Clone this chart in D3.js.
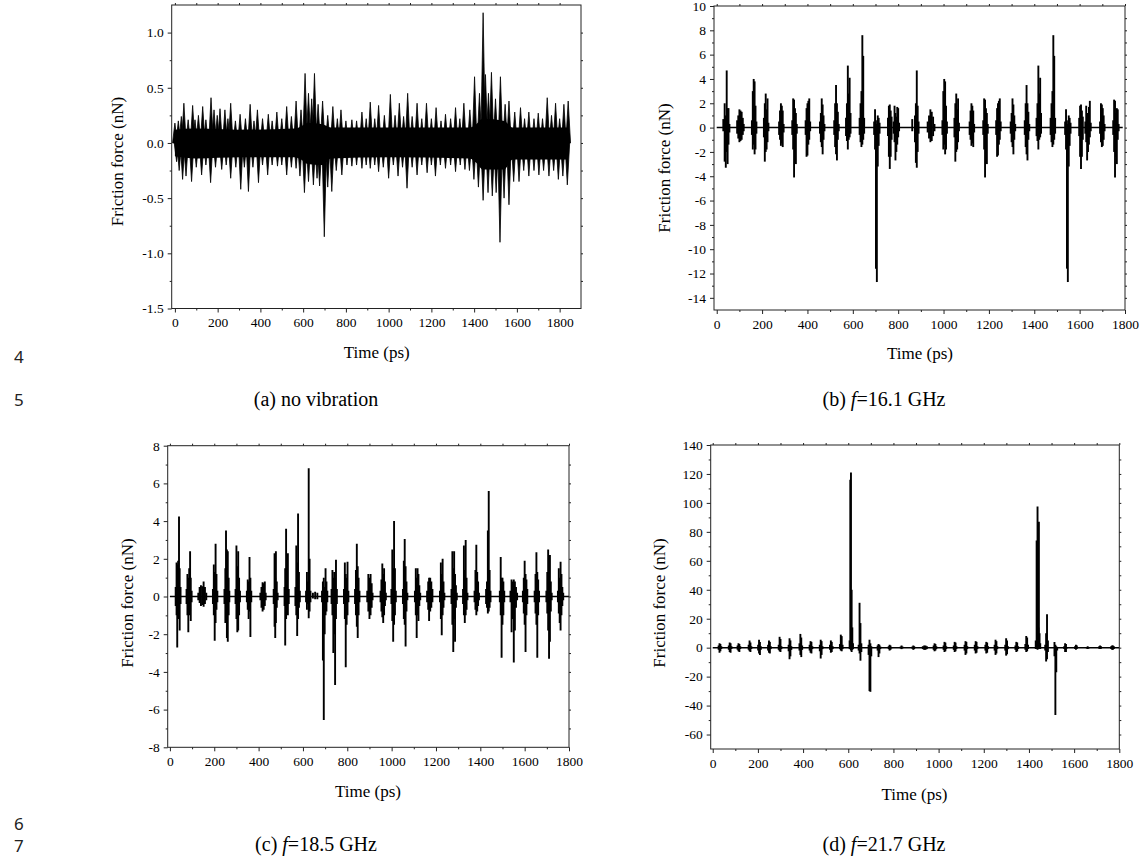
<!DOCTYPE html>
<html><head><meta charset="utf-8">
<script src="https://cdn.jsdelivr.net/npm/d3@7"></script>
<style>
body{margin:0;background:#fff}
svg{display:block}
text{font-family:"Liberation Serif","Times New Roman",serif;fill:#000}
</style></head>
<body><svg id="chart" width="1144" height="858"></svg>
<script>
// ---------------- DATA ----------------
const xTickValues = [0,200,400,600,800,1000,1200,1400,1600,1800];
const xMinorValues = [100,300,500,700,900,1100,1300,1500,1700];

// (a) no vibration : dense band + individual peaks / troughs
const aYTicks = [-1.5,-1.0,-0.5,0.0,0.5,1.0];
const aYMinor = [-1.25,-0.75,-0.25,0.25,0.75];
const aBandT  = [0,100,300,560,590,620,690,730,1000,1380,1410,1440,1540,1580,1840];
const aBandHi = [0.12,0.13,0.12,0.13,0.15,0.18,0.17,0.14,0.14,0.14,0.17,0.22,0.2,0.14,0.14];
const aBandLo = [-0.12,-0.14,-0.13,-0.13,-0.15,-0.19,-0.2,-0.14,-0.13,-0.14,-0.18,-0.24,-0.24,-0.15,-0.15];
const aPeaks = [[0,0.18],[16,0.2],[30,0.24],[42,0.36],[62,0.21],[83,0.34],[94,0.21],[110,0.25],[130,0.33],[145,0.21],[169,0.41],[183,0.3],[198,0.25],[211,0.31],[234,0.3],[248,0.22],[261,0.36],[283,0.2],[305,0.26],[330,0.22],[352,0.35],[370,0.2],[386,0.3],[410,0.22],[437,0.26],[455,0.2],[477,0.28],[500,0.22],[523,0.33],[545,0.24],[567,0.38],[590,0.3],[609,0.63],[625,0.45],[640,0.4],[653,0.63],[670,0.35],[691,0.38],[715,0.25],[739,0.33],[760,0.22],[777,0.3],[800,0.2],[828,0.21],[850,0.2],[875,0.28],[895,0.22],[914,0.37],[935,0.22],[953,0.34],[980,0.25],[1008,0.44],[1030,0.25],[1050,0.36],[1070,0.24],[1089,0.45],[1110,0.24],[1133,0.36],[1155,0.22],[1177,0.36],[1200,0.22],[1222,0.32],[1245,0.2],[1266,0.26],[1290,0.22],[1313,0.32],[1333,0.22],[1352,0.36],[1380,0.3],[1402,0.6],[1425,0.45],[1442,1.18],[1453,0.62],[1467,0.45],[1481,0.64],[1500,0.4],[1523,0.6],[1545,0.35],[1563,0.38],[1590,0.28],[1617,0.32],[1636,0.22],[1656,0.28],[1680,0.22],[1700,0.27],[1720,0.22],[1742,0.41],[1762,0.25],[1781,0.36],[1800,0.22],[1820,0.35],[1840,0.38]];
const aTroughs = [[8,-0.17],[20,-0.25],[36,-0.33],[52,-0.3],[78,-0.35],[100,-0.22],[125,-0.29],[145,-0.2],[167,-0.36],[190,-0.22],[219,-0.24],[240,-0.2],[261,-0.32],[285,-0.22],[308,-0.42],[325,-0.22],[344,-0.44],[365,-0.22],[391,-0.36],[410,-0.2],[434,-0.29],[455,-0.2],[480,-0.21],[500,-0.2],[523,-0.29],[545,-0.22],[567,-0.23],[585,-0.3],[606,-0.45],[625,-0.35],[648,-0.38],[665,-0.32],[677,-0.39],[699,-0.85],[715,-0.4],[734,-0.44],[755,-0.25],[781,-0.29],[805,-0.2],[828,-0.21],[850,-0.2],[875,-0.23],[895,-0.2],[914,-0.23],[935,-0.2],[953,-0.26],[975,-0.22],[1000,-0.32],[1022,-0.2],[1044,-0.3],[1065,-0.22],[1086,-0.41],[1110,-0.22],[1133,-0.29],[1155,-0.2],[1180,-0.27],[1200,-0.2],[1219,-0.3],[1242,-0.2],[1266,-0.23],[1290,-0.2],[1313,-0.26],[1335,-0.2],[1357,-0.24],[1378,-0.25],[1399,-0.33],[1420,-0.4],[1442,-0.52],[1465,-0.45],[1485,-0.48],[1503,-0.45],[1521,-0.9],[1540,-0.5],[1563,-0.56],[1585,-0.35],[1610,-0.35],[1632,-0.25],[1656,-0.3],[1680,-0.25],[1703,-0.29],[1725,-0.25],[1750,-0.3],[1772,-0.25],[1794,-0.33],[1815,-0.3],[1836,-0.38]];

// (b) f = 16.1 GHz : spikes [time, max, min]
const bYTicks = [-14,-12,-10,-8,-6,-4,-2,0,2,4,6,8,10];
const bYMinor = [-15,-13,-11,-9,-7,-5,-3,-1,1,3,5,7,9];
const bSpikes = [
 [29,0.7,-0.3],[35,2.0,-2.8],[40,1.0,-3.3],[44,4.7,-2.0],[48,1.6,-3.0],[52,1.6,-1.4],[56,0.3,-0.4],
 [90,0.6,-0.5],[95,1.0,-0.9],[100,1.5,-1.2],[105,1.4,-1.1],[110,1.3,-1.0],[115,0.8,-0.6],[119,0.3,-0.3],
 [155,0.6,-0.6],[159,3.0,-1.8],[163,4.0,-1.4],[167,3.8,-2.2],[171,1.8,-1.8],[175,0.5,-0.5],
 [208,0.8,-0.8],[212,2.0,-2.8],[216,2.8,-2.0],[220,1.5,-1.8],[224,2.4,-1.2],[228,0.4,-0.3],
 [275,0.5,-0.6],[279,1.4,-1.0],[283,2.0,-1.5],[287,1.8,-1.3],[291,1.4,-1.6],[295,0.3,-0.4],
 [333,0.6,-0.6],[337,2.4,-1.8],[341,2.3,-4.1],[345,1.6,-2.4],[349,1.2,-3.0],[353,0.3,-0.5],
 [392,0.6,-0.6],[396,1.6,-2.4],[400,2.0,-2.3],[404,2.2,-1.4],[408,2.4,-1.0],[412,0.5,-0.3],
 [455,0.5,-0.5],[459,1.2,-1.2],[463,2.4,-1.6],[467,1.9,-2.2],[471,1.0,-1.0],[475,0.3,-0.3],
 [518,0.6,-0.6],[522,2.0,-1.6],[526,3.5,-2.2],[530,2.0,-2.7],[534,1.3,-1.0],[538,0.3,-0.3],
 [570,0.8,-0.7],[574,2.0,-1.1],[578,5.1,-1.8],[582,2.8,-1.0],[586,4.1,-0.8],[590,1.2,-0.5],
 [630,0.8,-0.6],[634,2.0,-1.2],[638,3.0,-1.6],[642,7.6,-1.4],[646,5.9,-1.0],[650,0.8,-0.5],
 [694,0.5,-0.6],[698,1.5,-1.8],[702,0.6,-11.6],[706,0.3,-12.7],[710,1.0,-3.2],[714,0.8,-1.5],[718,0.4,-0.5],
 [755,0.8,-0.7],[759,1.8,-2.4],[763,1.9,-3.4],[767,1.4,-2.4],[771,0.9,-1.0],
 [780,0.5,-0.5],[784,1.8,-1.2],[788,1.2,-2.7],[792,0.9,-2.0],[796,1.7,-1.4],[800,1.6,-0.8],[804,0.4,-0.3],
 [862,0.7,-0.3],[874,1.0,-1.2],[878,2.0,-2.9],[882,4.7,-3.3],[886,1.8,-2.0],[890,0.5,-0.5],
 [930,0.5,-0.4],[936,1.0,-0.9],[942,1.5,-1.2],[948,1.3,-1.1],[954,0.9,-0.7],[960,0.3,-0.3],
 [995,0.6,-0.6],[999,3.0,-1.8],[1003,4.0,-1.4],[1007,3.8,-2.2],[1011,1.8,-1.8],[1015,0.5,-0.5],
 [1048,0.8,-0.8],[1052,2.0,-2.8],[1056,2.8,-2.0],[1060,1.5,-1.8],[1064,2.4,-1.2],[1068,0.4,-0.3],
 [1115,0.5,-0.6],[1119,1.4,-1.0],[1123,2.0,-1.5],[1127,1.8,-1.3],[1131,1.4,-1.6],[1135,0.3,-0.4],
 [1175,0.6,-0.6],[1179,2.4,-1.8],[1183,2.3,-4.1],[1187,1.6,-2.4],[1191,1.2,-3.0],[1195,0.3,-0.5],
 [1232,0.6,-0.6],[1236,1.6,-2.4],[1240,2.0,-2.3],[1244,2.2,-1.4],[1248,2.4,-1.0],[1252,0.5,-0.3],
 [1296,0.5,-0.5],[1300,1.2,-1.2],[1304,2.4,-1.6],[1308,1.9,-2.2],[1312,1.0,-1.0],[1316,0.3,-0.3],
 [1358,0.6,-0.6],[1362,2.0,-1.6],[1366,3.5,-2.2],[1370,2.0,-2.7],[1374,1.3,-1.0],[1378,0.3,-0.3],
 [1410,0.8,-0.7],[1414,2.0,-1.1],[1418,5.1,-1.8],[1422,2.8,-1.0],[1426,4.1,-0.8],[1430,1.2,-0.5],
 [1472,0.8,-0.6],[1476,2.0,-1.2],[1480,3.0,-1.6],[1484,7.6,-1.4],[1488,5.9,-1.0],[1492,0.8,-0.5],
 [1536,0.5,-0.6],[1540,1.5,-1.8],[1544,0.6,-11.6],[1548,0.3,-12.7],[1552,1.0,-3.2],[1556,0.8,-1.5],[1560,0.4,-0.5],
 [1598,0.8,-0.7],[1602,1.8,-2.4],[1606,1.9,-3.4],[1610,1.4,-2.4],[1614,0.9,-1.0],
 [1625,0.5,-0.5],[1629,1.8,-1.2],[1633,1.2,-2.7],[1637,0.9,-2.0],[1641,1.7,-1.4],[1645,2.2,-0.8],[1649,0.4,-0.3],
 [1690,0.5,-0.5],[1694,2.0,-1.2],[1698,1.9,-1.6],[1702,1.6,-1.5],[1706,1.0,-1.0],[1710,0.3,-0.3],
 [1748,0.6,-0.6],[1752,2.3,-2.0],[1756,2.2,-4.1],[1760,1.2,-2.4],[1764,1.6,-3.0],[1768,1.5,-1.0],[1772,0.3,-0.3]
];

// (c) f = 18.5 GHz
const cYTicks = [-8,-6,-4,-2,0,2,4,6,8];
const cYMinor = [-7,-5,-3,-1,1,3,5,7];
const cSpikes = [
 [26,0.5,-0.5],[30,1.8,-1.0],[33,1.7,-2.7],[37,1.9,-1.2],[41,4.25,-0.9],[44,1.5,-1.8],[48,0.5,-0.4],
 [75,0.4,-0.4],[79,1.2,-1.0],[83,1.0,-1.9],[87,1.5,-1.0],[91,2.4,-0.8],[94,1.0,-1.3],[98,0.3,-0.3],
 [128,0.2,-0.2],[134,0.5,-0.35],[140,0.6,-0.5],[146,0.55,-0.45],[152,0.8,-0.55],[158,0.5,-0.4],[164,0.2,-0.2],
 [194,0.4,-0.4],[198,1.7,-1.0],[202,1.3,-2.35],[206,2.8,-1.4],[210,1.2,-0.7],[214,0.3,-0.3],
 [246,0.4,-0.4],[250,1.5,-1.4],[253,3.5,-1.0],[257,2.5,-2.2],[261,2.4,-2.4],[265,1.0,-1.0],[268,0.3,-0.3],
 [296,0.4,-0.4],[300,2.7,-1.2],[304,1.6,-1.9],[308,2.4,-1.8],[312,1.0,-1.0],[316,0.3,-0.3],
 [347,0.3,-0.3],[351,0.9,-0.7],[355,0.8,-1.2],[359,2.1,-0.8],[363,1.0,-2.15],[367,0.3,-0.3],
 [408,0.2,-0.2],[413,0.5,-0.6],[418,0.75,-0.8],[423,0.7,-0.7],[428,0.8,-0.5],[432,0.2,-0.2],
 [468,0.4,-0.4],[472,2.3,-1.6],[475,1.0,-2.2],[478,2.4,-1.4],[482,0.8,-0.6],[486,0.2,-0.2],
 [517,0.5,-0.5],[520,1.5,-2.6],[524,3.6,-1.2],[528,1.6,-0.9],[532,2.3,-1.0],[536,0.4,-0.4],
 [566,0.5,-0.5],[570,2.7,-1.0],[574,1.8,-2.1],[578,4.4,-1.2],[582,1.3,-0.6],[586,0.3,-0.3],
 [614,0.3,-0.3],[618,1.3,-0.7],[622,0.8,-0.4],[626,6.8,-1.15],[630,2.0,-0.8],[634,0.3,-0.3],
 [645,0.2,-0.1],[655,0.25,-0.15],[665,0.2,-0.15],
 [686,0.3,-0.3],[690,0.8,-3.4],[694,1.0,-6.55],[698,0.5,-2.0],[702,1.5,-1.0],[706,0.8,-0.8],[710,0.3,-0.3],
 [729,0.4,-0.4],[733,1.4,-1.0],[737,1.0,-3.0],[741,1.3,-2.0],[745,1.0,-4.7],[749,1.95,-1.2],[753,0.4,-0.4],
 [785,0.4,-0.4],[789,1.8,-1.2],[793,1.2,-3.75],[797,1.0,-1.5],[801,1.85,-1.0],[805,0.3,-0.3],
 [835,0.4,-0.4],[839,1.4,-1.0],[843,2.8,-1.6],[847,1.6,-2.2],[851,1.0,-1.0],[855,0.3,-0.3],
 [890,0.3,-0.3],[895,1.2,-0.8],[900,1.0,-1.2],[905,1.2,-1.0],[910,0.7,-0.6],[914,0.2,-0.2],
 [950,0.3,-0.3],[954,0.9,-0.8],[958,1.75,-1.1],[962,1.2,-1.4],[966,1.5,-1.0],[970,0.8,-0.5],[974,0.2,-0.2],
 [999,0.4,-0.4],[1003,2.5,-1.3],[1007,1.5,-2.4],[1011,4.0,-1.5],[1015,1.5,-1.0],[1019,0.3,-0.3],
 [1051,0.4,-0.4],[1055,1.9,-1.2],[1059,3.05,-1.5],[1063,1.6,-2.65],[1067,0.8,-0.8],[1071,0.2,-0.2],
 [1105,0.3,-0.3],[1109,1.5,-1.0],[1113,1.0,-2.2],[1117,1.5,-1.0],[1121,1.2,-1.3],[1125,0.6,-0.5],[1129,0.2,-0.2],
 [1160,0.3,-0.3],[1165,0.8,-0.7],[1169,1.0,-1.3],[1174,1.0,-0.8],[1179,0.8,-0.6],[1184,0.4,-0.3],
 [1218,0.3,-0.3],[1222,1.8,-1.2],[1226,1.2,-2.05],[1230,2.0,-1.0],[1234,0.8,-0.6],[1238,0.2,-0.2],
 [1270,0.4,-0.4],[1274,2.4,-1.5],[1278,1.5,-2.95],[1282,2.4,-1.2],[1286,1.2,-2.4],[1290,0.6,-0.6],[1294,0.2,-0.2],
 [1322,0.4,-0.4],[1326,2.7,-1.0],[1330,1.4,-1.4],[1334,3.0,-1.0],[1338,1.0,-0.7],[1342,0.2,-0.2],
 [1374,0.3,-0.3],[1378,1.4,-0.7],[1382,2.75,-1.0],[1386,1.3,-0.8],[1390,0.8,-0.5],[1394,0.2,-0.2],
 [1426,0.4,-0.4],[1430,0.8,-0.6],[1434,3.5,-0.9],[1438,5.6,-0.8],[1442,1.4,-0.6],[1446,0.3,-0.3],
 [1488,0.3,-0.3],[1492,2.1,-1.0],[1496,1.0,-3.25],[1500,1.0,-1.5],[1504,0.8,-1.0],[1508,0.3,-0.3],
 [1536,0.3,-0.3],[1541,0.9,-1.9],[1546,0.8,-1.2],[1551,0.9,-3.5],[1556,0.8,-1.8],[1561,0.5,-0.6],[1566,0.2,-0.2],
 [1592,0.3,-0.3],[1596,1.0,-0.9],[1600,1.9,-1.5],[1604,1.2,-2.95],[1608,0.9,-1.0],[1612,0.4,-0.4],
 [1645,0.3,-0.3],[1649,1.2,-0.9],[1653,2.35,-1.5],[1657,1.3,-3.25],[1661,0.9,-1.0],[1665,0.3,-0.3],
 [1698,0.3,-0.3],[1702,1.3,-0.9],[1706,2.5,-1.8],[1710,1.6,-3.3],[1714,2.2,-2.4],[1718,0.8,-0.8],[1722,0.2,-0.2],
 [1750,0.3,-0.3],[1754,1.5,-0.9],[1758,1.0,-1.4],[1762,1.85,-1.8],[1766,1.2,-1.0],[1770,0.5,-0.5],[1774,0.2,-0.2]
];

// (d) f = 21.7 GHz
const dYTicks = [-60,-40,-20,0,20,40,60,80,100,120,140];
const dYMinor = [-70,-50,-30,-10,10,30,50,70,90,110,130];
const dSpikes = [
 [26,1.5,-1.5],[30,3.0,-3.5],[34,2.5,-2.5],[38,1.0,-1.0],
 [71,1.5,-1.5],[75,3.5,-3.0],[79,3.0,-3.5],[83,1.0,-1.0],
 [110,1.5,-1.5],[114,3.0,-2.5],[118,2.5,-3.0],[122,1.0,-1.0],
 [159,2.0,-1.5],[163,5.0,-2.5],[167,3.5,-3.0],[171,1.0,-1.0],
 [201,2.0,-2.0],[205,5.5,-4.0],[209,4.0,-5.0],[213,1.0,-1.5],
 [245,2.0,-2.0],[249,5.0,-3.5],[253,4.0,-4.0],[257,1.0,-1.0],
 [292,2.0,-1.5],[296,7.5,-2.5],[300,6.0,-3.0],[304,1.0,-1.0],
 [336,2.0,-2.5],[340,6.5,-8.0],[344,5.0,-6.0],[348,1.0,-1.5],
 [384,3.0,-2.0],[388,9.5,-5.0],[392,7.0,-6.5],[396,1.5,-1.5],
 [429,2.0,-2.0],[433,4.5,-3.5],[437,4.0,-4.0],[441,1.0,-1.0],
 [474,2.0,-2.5],[478,5.5,-7.5],[482,4.5,-5.0],[486,1.0,-1.0],
 [519,2.0,-1.5],[523,5.0,-3.5],[527,4.0,-3.0],[531,1.0,-1.0],
 [563,2.5,-1.0],[567,9.0,-2.0],[571,8.0,-2.5],[575,2.0,-1.0],
 [606,5.0,-1.0],[609,116,-1.0],[612,121,-2.0],[615,40,-3.0],[618,14,-1.5],[621,3,-1.0],
 [646,2.0,-2.0],[650,31,-4.0],[654,17,-9.0],[658,3.0,-3.0],
 [690,2.0,-5.0],[694,5.5,-30],[698,3.0,-30.5],[702,1.0,-6],
 [730,1.5,-2.0],[734,2.5,-6.5],[738,2.0,-4.0],[742,0.8,-1.0],
 [779,1.0,-1.0],[783,2.0,-2.0],[787,1.5,-1.5],[791,0.5,-0.5],
 [832,0.8,-0.5],[836,1.5,-1.0],[840,0.8,-0.5],
 [884,0.8,-0.8],[888,1.5,-1.5],[892,1.0,-1.0],
 [930,1.0,-1.0],[936,1.5,-1.5],[942,1.5,-1.5],[948,1.0,-1.0],
 [978,1.5,-1.5],[982,3.0,-2.5],[986,2.5,-2.0],[990,1.0,-1.0],
 [1022,1.5,-1.5],[1026,4.0,-3.0],[1030,3.5,-2.5],[1034,1.0,-1.0],
 [1067,1.5,-1.5],[1071,4.0,-3.0],[1075,3.5,-2.5],[1079,1.0,-1.0],
 [1115,2.0,-2.0],[1119,4.5,-5.0],[1123,4.0,-4.0],[1127,1.0,-1.0],
 [1160,2.0,-2.0],[1164,4.5,-4.0],[1168,4.0,-3.5],[1172,1.0,-1.0],
 [1207,2.0,-2.0],[1211,4.0,-4.0],[1215,3.5,-3.5],[1219,1.0,-1.0],
 [1248,2.0,-2.0],[1252,5.5,-5.0],[1256,4.5,-4.0],[1260,1.0,-1.0],
 [1295,2.0,-2.0],[1299,6.5,-5.5],[1303,5.0,-4.5],[1307,1.0,-1.0],
 [1340,1.5,-1.5],[1344,4.0,-3.0],[1348,3.5,-2.5],[1352,1.0,-1.0],
 [1384,2.5,-1.5],[1388,8.0,-3.0],[1392,7.0,-2.5],[1396,2.0,-1.0],
 [1430,5,-1],[1434,74,-1],[1438,97.5,-1.5],[1442,14,-1],[1444,87,-1],[1447,10,-1],[1450,3,-1],
 [1472,2.0,-2.0],[1476,10,-9.5],[1480,23,-8.0],[1484,5.0,-3.0],
 [1513,4,-6],[1517,2,-46.5],[1521,1,-17],[1525,0.5,-2],
 [1556,1.0,-1.0],[1560,3.0,-3.0],[1564,2.5,-3.0],[1568,0.5,-0.5],
 [1604,1.0,-1.0],[1608,2.0,-1.5],[1612,1.5,-1.0],
 [1656,0.5,-0.5],[1660,1.0,-1.0],[1664,0.5,-0.5],
 [1711,1.0,-0.8],[1715,1.5,-1.0],[1719,1.0,-0.8],
 [1764,1.0,-1.0],[1768,1.5,-1.5],[1772,1.5,-1.5],[1776,1.0,-1.0]
];

const captions = ["(a) no vibration", "(b) ", "(c) ", "(d) "];
const freqs = ["", "16.1 GHz", "18.5 GHz", "21.7 GHz"];
const lineNumbers = ["4","5","6","7"];
const xTitle = "Time (ps)";
const yTitle = "Friction force (nN)";

// ---------------- LAYOUT ----------------
const SERIF = "Liberation Serif, Times New Roman, serif";
const svg = d3.select("#chart");
const panels = [
  {id:"a", box:[171.7,581,5,308.5], xd:[-15,1900], yd:[-1.5,1.25], yT:aYTicks, yM:aYMinor, fmt:d=>d.toFixed(1),
   xt:[376.7,358], yt:[123,161.5], base:null},
  {id:"b", box:[714,1125,6,310], xd:[-12,1800], yd:[-15,10], yT:bYTicks, yM:bYMinor, fmt:d=>String(d),
   xt:[920,359], yt:[670,168], spikes:bSpikes, base:[0,1790]},
  {id:"c", box:[167.7,569,445.7,747.3], xd:[-10,1800], yd:[-8,8], yT:cYTicks, yM:cYMinor, fmt:d=>String(d),
   xt:[368,797], yt:[133,603], spikes:cSpikes, base:[0,1800]},
  {id:"d", box:[710.7,1119.3,445,749], xd:[-9,1800], yd:[-70,140], yT:dYTicks, yM:dYMinor, fmt:d=>String(d),
   xt:[914.5,800], yt:[665,603], spikes:dSpikes, base:[0,1800]}
];

panels.forEach(p => {
  const [L,R,T,B] = p.box;
  const x = d3.scaleLinear().domain(p.xd).range([L,R]);
  const y = d3.scaleLinear().domain(p.yd).range([B,T]);
  const g = svg.append("g");
  const clipId = "clip-"+p.id;
  svg.append("clipPath").attr("id",clipId).append("rect")
     .attr("x",L).attr("y",T).attr("width",R-L).attr("height",B-T);
  const plot = g.append("g").attr("clip-path",`url(#${clipId})`);

  if (p.id === "a") {
    const band = aBandT.map((t,i)=>[t,aBandHi[i],aBandLo[i]]);
    plot.append("path").datum(band)
      .attr("d", d3.area().x(d=>x(d[0])).y0(d=>y(d[2])).y1(d=>y(d[1])).curve(d3.curveMonotoneX))
      .attr("fill","#000");
    const tri = d3.line().x(d=>x(d[0])).y(d=>y(d[1]));
    plot.selectAll("path.pk").data(aPeaks.concat(aTroughs)).enter().append("path")
      .attr("class","pk")
      .attr("d", d => tri([[d[0]-11,0],[d[0],d[1]],[d[0]+11,0]])+"Z")
      .attr("fill","#000").attr("stroke","#000").attr("stroke-width",0.8).attr("stroke-linejoin","miter");
  } else {
    plot.append("path").datum(p.base.map(t=>[t,0]))
      .attr("d", d3.line().x(d=>x(d[0])).y(d=>y(d[1])))
      .attr("stroke","#000").attr("stroke-width",1.5).attr("fill","none");
    plot.selectAll("line.sp").data(p.spikes).enter().append("line")
      .attr("class","sp")
      .attr("x1",d=>x(d[0])).attr("x2",d=>x(d[0]))
      .attr("y1",d=>y(d[2])).attr("y2",d=>y(d[1]))
      .attr("stroke","#000").attr("stroke-width",1.9);
  }

  // axes
  const strip = s => s.call(a=>a.select(".domain").remove());
  const styleAxis = a => a.attr("font-family",SERIF).attr("font-size",13.5)
      .call(s=>s.selectAll("text").style("font-family",SERIF).style("font-size","13.5px"));
  g.append("g").attr("transform",`translate(0,${B})`)
    .call(d3.axisBottom(x).tickValues(xTickValues).tickFormat(d=>String(d)).tickSize(4).tickPadding(5))
    .call(strip).call(styleAxis);
  g.append("g").attr("transform",`translate(0,${B})`)
    .call(d3.axisBottom(x).tickValues(xMinorValues).tickFormat("").tickSize(2)).call(strip);
  g.append("g").attr("transform",`translate(${L},0)`)
    .call(d3.axisLeft(y).tickValues(p.yT).tickFormat(p.fmt).tickSize(4).tickPadding(4))
    .call(strip).call(styleAxis);
  g.append("g").attr("transform",`translate(${L},0)`)
    .call(d3.axisLeft(y).tickValues(p.yM.filter(v=>v>p.yd[0]&&v<p.yd[1])).tickFormat("").tickSize(2)).call(strip);
  g.append("g").attr("transform",`translate(0,${T})`)
    .call(d3.axisTop(x).tickValues(xTickValues.concat(xMinorValues)).tickFormat("").tickSize(2)).call(strip);
  g.append("g").attr("transform",`translate(${R},0)`)
    .call(d3.axisRight(y).tickValues(p.yT.concat(p.yM).filter(v=>v>p.yd[0]&&v<p.yd[1])).tickFormat("").tickSize(2)).call(strip);
  g.selectAll(".tick line").attr("stroke","#222");

  g.append("rect").attr("x",L).attr("y",T).attr("width",R-L).attr("height",B-T)
    .attr("fill","none").attr("stroke","#222").attr("stroke-width",1);

  g.append("text").attr("x",p.xt[0]).attr("y",p.xt[1]).attr("text-anchor","middle")
    .style("font-family",SERIF).style("font-size","17px").text(xTitle);
  g.append("text").attr("transform",`translate(${p.yt[0]},${p.yt[1]}) rotate(-90)`)
    .attr("text-anchor","middle").style("font-family",SERIF).style("font-size","17px").text(yTitle);
});

// captions and line numbers
const capPos = [[316,406],[884,406],[316,851],[884,851]];
captions.forEach((c,i)=>{
  const t = svg.append("text").attr("x",capPos[i][0]).attr("y",capPos[i][1])
    .attr("text-anchor","middle").style("font-size","20px").style("font-family",SERIF);
  t.append("tspan").text(c);
  if (freqs[i]) {
    t.append("tspan").style("font-style","italic").text("f");
    t.append("tspan").text("=" + freqs[i]);
  }
});
const numPos = [[14,363],[14,406],[14,830],[14,852]];
lineNumbers.forEach((n,i)=>{
  svg.append("text").attr("x",numPos[i][0]).attr("y",numPos[i][1])
    .style("font-size","17px").style("font-family","Noto Sans, sans-serif").style("fill","#222").text(n);
});
</script>
</body></html>
